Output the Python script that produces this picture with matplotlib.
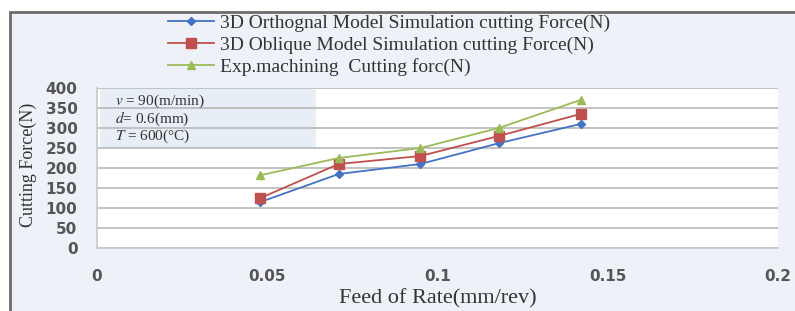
import matplotlib.pyplot as plt
from matplotlib.patches import Rectangle

plt.rcParams["mathtext.fontset"] = "stix"

# Values
feed = [0.048, 0.071, 0.095, 0.118, 0.142]
orthogonal = [115, 185, 210, 262, 310]
oblique = [125, 210, 230, 280, 335]
experiment = [182, 225, 250, 300, 370]

series_labels = [
    "3D Orthognal Model Simulation cutting Force(N)",
    "3D Oblique Model Simulation cutting Force(N)",
    "Exp.machining  Cutting forc(N)",
]
x_ticks = [0, 0.05, 0.1, 0.15, 0.2]
x_tick_labels = ["0", "0.05", "0.1", "0.15", "0.2"]
y_ticks = [0, 50, 100, 150, 200, 250, 300, 350, 400]

W, H = 795, 311
fig = plt.figure(figsize=(W / 100, H / 100), dpi=100)
fig.patch.set_facecolor("white")

# outer chart frame with pale background
frame = Rectangle((10 / W, -0.05), 1.0, 1 - 12 / H + 0.05, transform=fig.transFigure,
                  facecolor="#eef2f8", edgecolor="#6b6b6b", linewidth=2.0, zorder=-1)
fig.patches.append(frame)

ax = fig.add_axes([97 / W, (H - 248) / H, 681 / W, 160 / H])
ax.set_zorder(1)
ax.set_facecolor("white")

# shaded annotation box
ax.add_patch(Rectangle((0.004, 0.625), 0.318, 0.37, transform=ax.transAxes,
                       facecolor="#e8eef6", edgecolor="none", zorder=0.5))

ax.plot(feed, orthogonal, color="#4472c4", marker="D", markersize=4,
        linewidth=1.3, label=series_labels[0], zorder=3)
ax.plot(feed, oblique, color="#c0504d", marker="s", markersize=7,
        linewidth=1.3, label=series_labels[1], zorder=4)
ax.plot(feed, experiment, color="#9bbb59", marker="^", markersize=6,
        linewidth=1.3, label=series_labels[2], zorder=5)

ax.set_xlim(0, 0.2)
ax.set_ylim(0, 400)
ax.set_xticks(x_ticks)
ax.set_xticklabels(x_tick_labels)
ax.set_yticks(y_ticks)
ax.yaxis.grid(True, color="#bdbdbd", linewidth=1.3)
ax.set_axisbelow(True)
ax.tick_params(length=0, labelsize=11, labelcolor="#555555")
ax.tick_params(axis="y", pad=14)
ax.tick_params(axis="x", pad=15)
for lbl in ax.get_xticklabels() + ax.get_yticklabels():
    lbl.set_fontfamily("DejaVu Sans")
    lbl.set_fontweight("bold")

for side in ["top", "right"]:
    ax.spines[side].set_visible(False)
for side in ["left", "bottom"]:
    ax.spines[side].set_color("#c8c8c8")
    ax.spines[side].set_linewidth(1.2)

serif = "Liberation Serif"
ax.set_xlabel("Feed of Rate(mm/rev)", fontfamily=serif, fontsize=16, color="#333333", labelpad=4)
ax.set_ylabel("Cutting Force(N)", fontfamily=serif, fontsize=13, color="#333333")
ax.yaxis.set_label_coords(-0.088, 0.52)

ax.text(0.027, 0.915, r"$v$ = 90(m/min)", transform=ax.transAxes, fontfamily=serif,
        fontsize=11, color="#333333", va="center")
ax.text(0.027, 0.805, r"$d$= 0.6(mm)", transform=ax.transAxes, fontfamily=serif,
        fontsize=11, color="#333333", va="center")
ax.text(0.027, 0.70, r"$T$ = 600(°C)", transform=ax.transAxes, fontfamily=serif,
        fontsize=11, color="#333333", va="center")

fig.legend(loc="upper left", bbox_to_anchor=(150 / W, 1 + 3 / H), frameon=False,
           prop={"family": serif, "size": 14}, handlelength=2.4, handletextpad=0.3,
           labelspacing=0.2, labelcolor="#333333")

fig.savefig("out.png", dpi=100)
